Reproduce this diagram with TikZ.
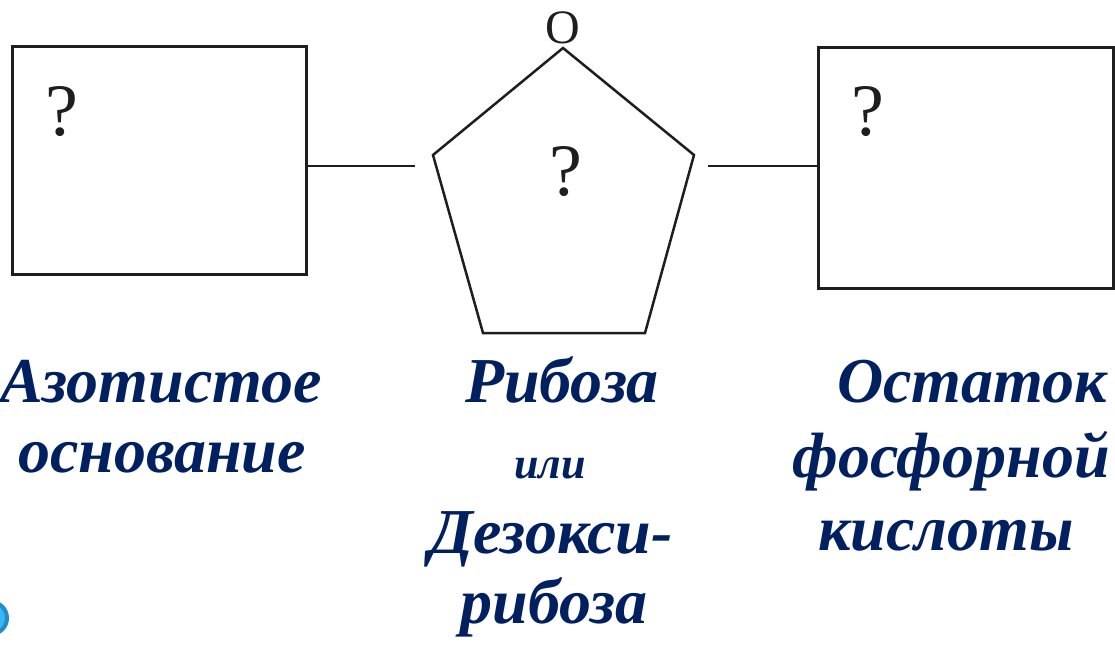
\documentclass[tikz,border=0pt]{standalone}
\usepackage{fontspec}
\setmainfont{Liberation Serif}
\usetikzlibrary{calc}
\definecolor{navy}{RGB}{0,32,96}
\definecolor{ink}{RGB}{30,30,30}
\definecolor{bulletdark}{RGB}{38,140,198}
\definecolor{bulletlight}{RGB}{56,182,245}
\tikzset{
  part/.style={draw=ink, line width=3pt},
  ring/.style={draw=ink, line width=2.5pt, line join=miter},
  bond/.style={draw=ink, line width=2pt},
  mark/.style={},
  qmark/.style={font=\fontsize{74}{74}\selectfont, text=ink, inner sep=0pt},
  caption/.style={font=\fontsize{64}{64}\selectfont\bfseries\itshape, text=navy, inner sep=0pt, anchor=base},
  smallcap/.style={font=\fontsize{44}{44}\selectfont\bfseries\itshape, text=navy, inner sep=0pt, anchor=base},
}
\begin{document}
\begin{tikzpicture}[x=1pt,y=-1pt]
\useasboundingbox (0,0) rectangle (1115,645);
\fill[white] (0,0) rectangle (1115,645);

% nitrogenous base box and phosphate box
\node[part, minimum width=294pt, minimum height=228pt, anchor=north west, inner sep=0pt] (base) at (11,45) {};
\node[part, minimum width=295pt, minimum height=241pt, anchor=north west, inner sep=0pt] (phos) at (817,46) {};

% sugar ring
\coordinate (pt) at (563,48);
\coordinate (pl) at (433,155);
\coordinate (pr) at (694,155);
\coordinate (pbl) at (483,333);
\coordinate (pbr) at (645,333);
\draw[ring] (pt) -- (pr) -- (pbr) -- (pbl) -- (pl) -- cycle;
\node[font=\fontsize{48}{48}\selectfont, text=ink, inner sep=0pt, anchor=base] (oxy) at (563,43) {O};

% question marks
\node[qmark, anchor=base] (qbase) at (62,135) {?};
\node[qmark, anchor=base] (qsugar) at (566,195) {?};
\node[qmark, anchor=base] (qphos) at (868,135) {?};

% bonds
\coordinate (lend) at (415,166);
\coordinate (rend) at (708,166);
\draw[bond] (base.east |- lend) -- (lend);
\draw[bond] (rend) -- (phos.west |- rend);

% captions
\node[caption] (a1) at (161,402) {Азотистое};
\node[caption] (a2) at (162,472) {основание};
\node[caption] (r1) at (562,402) {Рибоза};
\node[smallcap] (r2) at (550,478) {или};
\node[caption] (r3) at (551,553) {Дезокси-};
\node[caption] (r4) at (554,623) {рибоза};
\node[caption] (f1) at (972,402) {Остаток};
\node[caption] (f2) at (951,477) {фосфорной};
\node[caption] (f3) at (946,550) {кислоты};

% slide bullet at the lower left edge
\node[circle, draw=bulletdark, fill=bulletlight, line width=4pt, minimum size=32pt, inner sep=0pt] (bullet) at (-9,618) {};
\end{tikzpicture}
\end{document}
